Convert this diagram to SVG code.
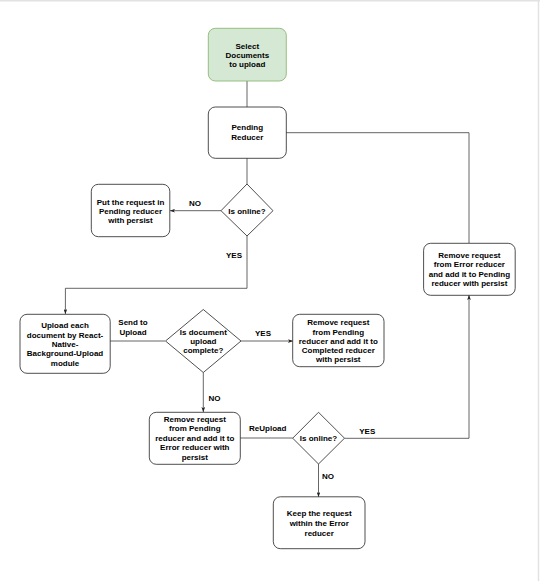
<svg xmlns="http://www.w3.org/2000/svg" width="540" height="581" viewBox="0 0 540 581">
<style>
.box{fill:#fff;stroke:#222;stroke-width:0.8}
.start{fill:#d5e8d4;stroke:#82b366;stroke-width:0.8}
.dia{fill:#fff;stroke:#222;stroke-width:0.8}
.t{font-family:"Liberation Sans",Arial,Helvetica,sans-serif;font-size:8px;font-weight:bold;fill:#000;text-anchor:middle}
.c{fill:none;stroke:#333;stroke-width:0.75}
.frame{stroke:#e2e2e2;stroke-width:1.5;fill:none}
</style>
<defs>
<marker id="arr" viewBox="0 0 8 6" markerWidth="5" markerHeight="3.75" refX="8" refY="3" markerUnits="userSpaceOnUse" orient="auto">
<path d="M0,0 L8,3 L0,6 L2,3 Z" fill="#222"/>
</marker>
</defs>
<rect width="540" height="581" fill="#fff"/>
<line class="frame" x1="0" y1="0.75" x2="540" y2="0.75"/>
<line class="frame" x1="538.5" y1="0" x2="538.5" y2="581"/>

<g id="connectors">
<path class="c" d="M247,81 V107"/>
<path class="c" d="M247,158 V184"/>
<path class="c" d="M221,210.7 H170" marker-end="url(#arr)"/>
<path class="c" d="M247,236 V288.3 H65.4 V314" marker-end="url(#arr)"/>
<path class="c" d="M110,341 H165"/>
<path class="c" d="M241,341 H293" marker-end="url(#arr)"/>
<path class="c" d="M203.3,372.5 V412" marker-end="url(#arr)"/>
<path class="c" d="M240,438 H292.7"/>
<path class="c" d="M344.5,438.3 H469 V295" marker-end="url(#arr)"/>
<path class="c" d="M318.5,464 V497" marker-end="url(#arr)"/>
<path class="c" d="M469,243 V132.7 H286"/>
</g>

<g id="labels">
<text class="t" x="195" y="206.3">NO</text>
<text class="t" x="234" y="258">YES</text>
<text class="t" x="133" y="325.3">Send to</text>
<text class="t" x="133" y="335">Upload</text>
<text class="t" x="263" y="336.3">YES</text>
<text class="t" x="214.5" y="401.3">NO</text>
<text class="t" x="267.7" y="431.3">ReUpload</text>
<text class="t" x="367.3" y="434">YES</text>
<text class="t" x="328" y="479">NO</text>
</g>

<g id="select">
<rect class="start" x="208.3" y="28.3" width="78" height="52.7" rx="7"/>
<text class="t" x="247.3" y="48.5">Select</text>
<text class="t" x="247.3" y="58">Documents</text>
<text class="t" x="247.3" y="67.3">to upload</text>
</g>

<g id="pending">
<rect class="box" x="208.3" y="107" width="78" height="51.3" rx="7"/>
<text class="t" x="247.3" y="130.3">Pending</text>
<text class="t" x="247.3" y="140">Reducer</text>
</g>

<g id="online1">
<polygon class="dia" points="247,184 273,210.7 247,236 221,210.7"/>
<text class="t" x="247" y="213.7">Is online?</text>
</g>

<g id="putpending">
<rect class="box" x="91.3" y="184.3" width="78.5" height="52.4" rx="7"/>
<text class="t" x="130.5" y="204.7">Put the request in</text>
<text class="t" x="130.5" y="213.7">Pending reducer</text>
<text class="t" x="130.5" y="223">with persist</text>
</g>

<g id="upload">
<rect class="box" x="20" y="314.3" width="90.2" height="59" rx="7"/>
<text class="t" x="65" y="328.3">Upload each</text>
<text class="t" x="65" y="337.7">document by React-</text>
<text class="t" x="65" y="347">Native-</text>
<text class="t" x="65" y="356.3">Background-Upload</text>
<text class="t" x="65" y="365.7">module</text>
</g>

<g id="complete">
<polygon class="dia" points="203.3,309.5 241,341 203.3,372.5 165.5,341"/>
<text class="t" x="203.3" y="334.6">Is document</text>
<text class="t" x="203.3" y="344">upload</text>
<text class="t" x="203.3" y="353.4">complete?</text>
</g>

<g id="completed">
<rect class="box" x="292.7" y="314.3" width="91.3" height="52.4" rx="7"/>
<text class="t" x="338.3" y="325.3">Remove request</text>
<text class="t" x="338.3" y="334.7">from Pending</text>
<text class="t" x="338.3" y="343.9">reducer and add it to</text>
<text class="t" x="338.3" y="353.3">Completed reducer</text>
<text class="t" x="338.3" y="362.4">with persist</text>
</g>

<g id="errortopending">
<rect class="box" x="423.6" y="243.3" width="91.6" height="52" rx="7"/>
<text class="t" x="469.4" y="258.3">Remove request</text>
<text class="t" x="469.4" y="267.4">from Error reducer</text>
<text class="t" x="469.4" y="277">and add it to Pending</text>
<text class="t" x="469.4" y="286.3">reducer with persist</text>
</g>

<g id="toerror">
<rect class="box" x="149.3" y="412.3" width="91" height="52" rx="7"/>
<text class="t" x="194.8" y="422.3">Remove request</text>
<text class="t" x="194.8" y="431.4">from Pending</text>
<text class="t" x="194.8" y="440.7">reducer and add it to</text>
<text class="t" x="194.8" y="450.2">Error reducer with</text>
<text class="t" x="194.8" y="459.6">persist</text>
</g>

<g id="online2">
<polygon class="dia" points="318.5,412.3 344.5,438.2 318.5,464 292.7,438.2"/>
<text class="t" x="318.5" y="440.7">Is online?</text>
</g>

<g id="keep">
<rect class="box" x="273.3" y="496.8" width="91.7" height="51.9" rx="7"/>
<text class="t" x="319.2" y="516.4">Keep the request</text>
<text class="t" x="319.2" y="526">within the Error</text>
<text class="t" x="319.2" y="535.6">reducer</text>
</g>
</svg>
